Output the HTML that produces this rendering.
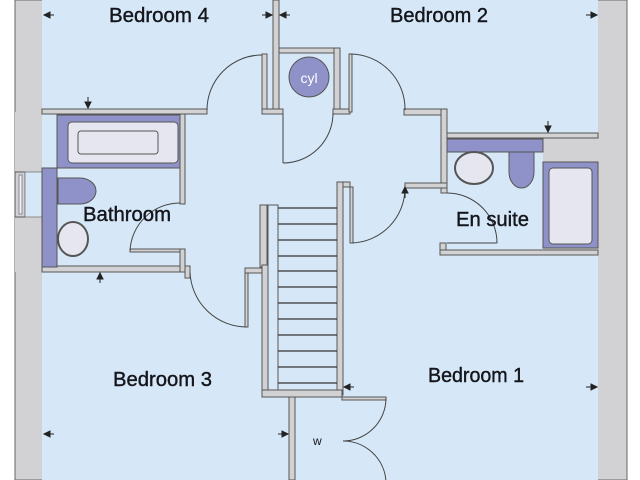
<!DOCTYPE html>
<html><head><meta charset="utf-8"><style>
html,body{margin:0;padding:0;background:#fff;width:640px;height:480px;overflow:hidden}
svg{display:block}
text{font-family:"Liberation Sans Narrow","Liberation Sans",sans-serif;fill:#15151c}
.lbl{stroke:#15151c;stroke-width:0.4}
</style></head><body>
<svg width="640" height="480" viewBox="0 0 640 480" xmlns="http://www.w3.org/2000/svg">
<rect x="15" y="0" width="612" height="480" fill="#d2d2d4" stroke="#666" stroke-width="1"/>
<rect x="42" y="0" width="556" height="480" fill="#d6e8f7"/>
<rect x="543" y="133" width="55" height="120" fill="#d2d2d4"/>
<rect x="15" y="112" width="27" height="160" fill="#d2d2d4"/>

<g fill="#d2d2d4" stroke="#555" stroke-width="1">
<rect x="42" y="109" width="165" height="5"/>
<rect x="262" y="54" width="5" height="58"/>
<rect x="273" y="0" width="6" height="112"/>
<rect x="279" y="48" width="61" height="5"/>
<rect x="334" y="48" width="6" height="64"/>
<rect x="262" y="109" width="21" height="5"/>
<rect x="333" y="109" width="17" height="5"/>
<rect x="349" y="54" width="3" height="58"/>
<rect x="404" y="109" width="43" height="6"/>
<rect x="441" y="109" width="6" height="84"/>
<rect x="447" y="133" width="151" height="5"/>
<rect x="405" y="183" width="42" height="5"/>
<rect x="337" y="182" width="13" height="5"/>
<rect x="337" y="182" width="6" height="213"/>
<rect x="350" y="187" width="3" height="56"/>
<rect x="440" y="243" width="6" height="12"/>
<rect x="440" y="250" width="158" height="5"/>
<rect x="180" y="114" width="5" height="90"/>
<rect x="42" y="266" width="143" height="6"/>
<rect x="130" y="249" width="50" height="3"/>
<rect x="180" y="249" width="5" height="23"/>
<rect x="185" y="266" width="5" height="12"/>
<rect x="245" y="272" width="3" height="55"/>
<rect x="245" y="268" width="17" height="5"/>
<rect x="260" y="205" width="7" height="62"/>
<rect x="262" y="265" width="6" height="132"/>
<rect x="262" y="390" width="80" height="7"/>
<rect x="289" y="397" width="6" height="83"/>
<rect x="342" y="397" width="44" height="3"/>
<rect x="15" y="172" width="10" height="45"/>
</g>
<rect x="19" y="175" width="3" height="39" fill="#eef" stroke="#777" stroke-width="0.8"/>
<rect x="25" y="172" width="17" height="45" fill="#d6e8f7" stroke="#777" stroke-width="0.8"/>

<rect x="268" y="205" width="10" height="185" fill="#d6e8f7" stroke="#555" stroke-width="1"/>
<g stroke="#333" stroke-width="1.2">
<line x1="278" y1="208" x2="337" y2="208"/><line x1="278" y1="224" x2="337" y2="224"/>
<line x1="278" y1="240" x2="337" y2="240"/><line x1="278" y1="256" x2="337" y2="256"/>
<line x1="278" y1="271" x2="337" y2="271"/><line x1="278" y1="287" x2="337" y2="287"/>
<line x1="278" y1="303" x2="337" y2="303"/><line x1="278" y1="319" x2="337" y2="319"/>
<line x1="278" y1="335" x2="337" y2="335"/><line x1="278" y1="351" x2="337" y2="351"/>
<line x1="278" y1="367" x2="337" y2="367"/><line x1="278" y1="383" x2="337" y2="383"/>
</g>

<rect x="42" y="168" width="15" height="99" fill="#8f92c8" stroke="#555"/>
<rect x="57" y="115" width="123" height="53" fill="#8f92c8" stroke="#555"/>
<rect x="68" y="122" width="110" height="41" rx="4" fill="#e6e6f0" stroke="#555"/>
<rect x="78" y="131" width="80" height="23" rx="3" fill="#e6e6f0" stroke="#555"/>
<path d="M58 178 h22 a16 13 0 0 1 0 26 h-22 z" fill="#8f92c8" stroke="#555"/>
<ellipse cx="73" cy="239" rx="15" ry="17" fill="#e6e6f0" stroke="#555" stroke-width="2"/>

<rect x="447" y="139" width="96" height="13" fill="#8f92c8" stroke="#555"/>
<ellipse cx="474" cy="168" rx="19" ry="16" fill="#e6e6f0" stroke="#555" stroke-width="2"/>
<path d="M509 152 h25 v20 a12.5 16 0 0 1 -25 0 z" fill="#8f92c8" stroke="#555"/>
<rect x="543" y="162" width="55" height="86" fill="#8f92c8" stroke="#555"/>
<rect x="549" y="168" width="43" height="76" rx="4" fill="#e6e6f0" stroke="#555"/>

<circle cx="309" cy="77" r="20" fill="#8f92c8" stroke="#555"/>
<text x="309" y="83" text-anchor="middle" font-size="14" style="fill:#fff">cyl</text>

<g fill="none" stroke="#444" stroke-width="1">
<path d="M207 110 A55 55 0 0 1 262 55"/>
<path d="M283 163 A50 50 0 0 0 333 113"/><line x1="283" y1="114" x2="283" y2="163"/>
<path d="M350 54 A55 55 0 0 1 405 110"/>
<path d="M352 243 A55 55 0 0 0 405 188"/>
<path d="M447 193 A50 50 0 0 1 497 243"/><line x1="447" y1="243" x2="497" y2="243"/>
<path d="M130 251 A50 50 0 0 1 180 203"/>
<path d="M190 272 A57 57 0 0 0 247 327"/>
<path d="M386 398 A43 43 0 0 1 343 441"/>
<path d="M343 441 A43 43 0 0 1 386 482"/>
</g>

<g fill="#222" stroke="#222" stroke-width="1">
<line x1="44" y1="15" x2="54" y2="15"/><path d="M44 15 l6 -3 v6 z"/>
<line x1="262" y1="15" x2="272" y2="15"/><path d="M272 15 l-6 -3 v6 z"/>
<line x1="280" y1="15" x2="290" y2="15"/><path d="M280 15 l6 -3 v6 z"/>
<line x1="586" y1="15" x2="597" y2="15"/><path d="M597 15 l-6 -3 v6 z"/>
<line x1="88" y1="97" x2="88" y2="108"/><path d="M88 108 l-3 -6 h6 z"/>
<line x1="548" y1="121" x2="548" y2="132"/><path d="M548 132 l-3 -6 h6 z"/>
<line x1="100" y1="273" x2="100" y2="283"/><path d="M100 273 l-3 6 h6 z"/>
<line x1="405" y1="187" x2="405" y2="198"/><path d="M405 187 l-3 6 h6 z"/>
<line x1="44" y1="434" x2="54" y2="434"/><path d="M44 434 l6 -3 v6 z"/>
<line x1="278" y1="434" x2="288" y2="434"/><path d="M288 434 l-6 -3 v6 z"/>
<line x1="344" y1="387" x2="354" y2="387"/><path d="M344 387 l6 -3 v6 z"/>
<line x1="586" y1="387" x2="597" y2="387"/><path d="M597 387 l-6 -3 v6 z"/>
</g>

<text class="lbl" x="109" y="22" font-size="20" textLength="100" lengthAdjust="spacingAndGlyphs">Bedroom 4</text>
<text class="lbl" x="390" y="22" font-size="20" textLength="98" lengthAdjust="spacingAndGlyphs">Bedroom 2</text>
<text class="lbl" x="83" y="221" font-size="20" textLength="88" lengthAdjust="spacingAndGlyphs">Bathroom</text>
<text class="lbl" x="456" y="226" font-size="20" textLength="73" lengthAdjust="spacingAndGlyphs">En suite</text>
<text class="lbl" x="113" y="386" font-size="20" textLength="99" lengthAdjust="spacingAndGlyphs">Bedroom 3</text>
<text class="lbl" x="428" y="382" font-size="20" textLength="96" lengthAdjust="spacingAndGlyphs">Bedroom 1</text>
<text x="313" y="445" font-size="12">w</text>
</svg>
</body></html>
